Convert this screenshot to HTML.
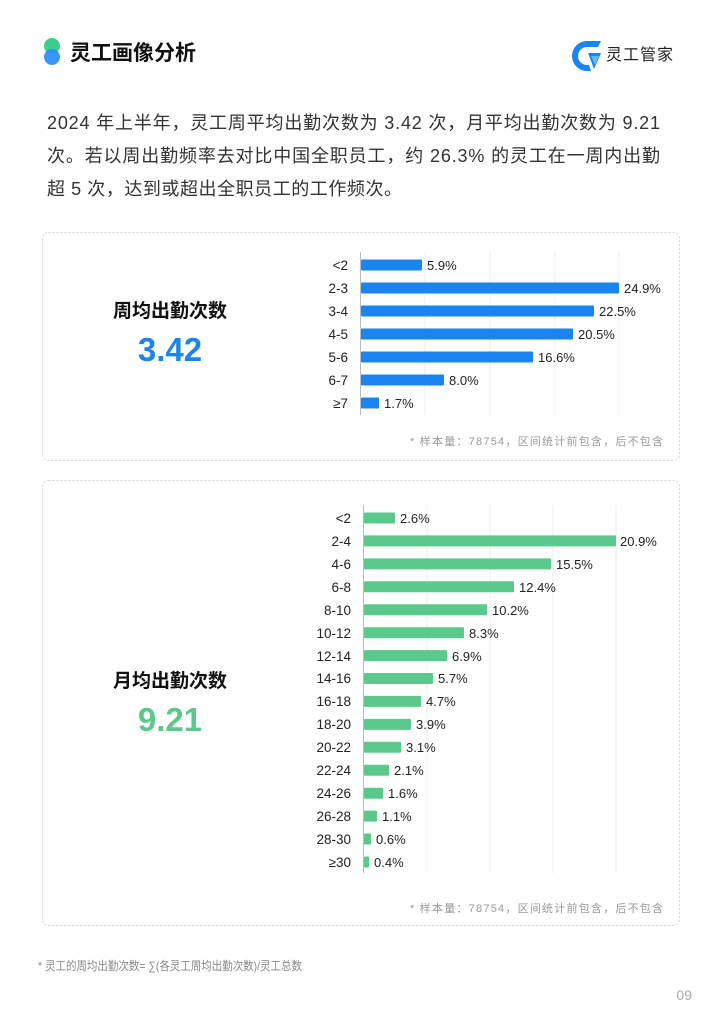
<!DOCTYPE html>
<html><head><meta charset="utf-8"><style>
html,body{margin:0;padding:0;background:#fff;}
body{width:721px;height:1024px;position:relative;overflow:hidden;font-family:"Liberation Sans","Noto Sans CJK SC",sans-serif;}
</style></head><body>
<svg width="721" height="1024" viewBox="0 0 721 1024" xmlns="http://www.w3.org/2000/svg" style="position:absolute;left:0;top:0;font-family:'Liberation Sans','Noto Sans CJK SC',sans-serif">
<!-- header -->
<circle cx="52" cy="46" r="8" fill="#3dcc8e"/>
<circle cx="52" cy="57" r="8" fill="#2f8ff5" opacity="0.95"/>
<text x="70" y="60" font-size="21" font-weight="bold" fill="#111">灵工画像分析</text>
<path d="M587 41 h14 l-3 6 h-11 a9 9 0 0 0 0 18 h2 l2 6 h-4 a15 15 0 0 1 0 -30z" fill="#1a84f0"/>
<path d="M588 53 h13 l-7 16 z" fill="#1a84f0"/>
<path d="M591 56 h8 l-4 9z" fill="#5fc0f5"/>
<text x="606" y="60" font-size="16" fill="#222" textLength="67">灵工管家</text>
<!-- paragraph -->
<g font-size="18" fill="#333">
<text x="47" y="129" textLength="613" lengthAdjust="spacing">2024 年上半年，灵工周平均出勤次数为 3.42 次，月平均出勤次数为 9.21</text>
<text x="47" y="162" textLength="613" lengthAdjust="spacing">次。若以周出勤频率去对比中国全职员工，约 26.3% 的灵工在一周内出勤</text>
<text x="47" y="195" textLength="355" lengthAdjust="spacing">超 5 次，达到或超出全职员工的工作频次。</text>
</g>
<!-- cards -->
<rect x="42.5" y="232.5" width="637" height="228" rx="6" fill="none" stroke="#d6d6d6" stroke-dasharray="2,2"/>
<rect x="42.5" y="480.5" width="637" height="445" rx="6" fill="none" stroke="#d6d6d6" stroke-dasharray="2,2"/>
<!-- weekly -->
<text x="170" y="317" font-size="19" font-weight="bold" fill="#111" text-anchor="middle">周均出勤次数</text>
<text x="170" y="361" font-size="33" font-weight="bold" fill="#1a84f0" text-anchor="middle">3.42</text>
<g stroke="#eeeeee"><line x1="425" y1="252" x2="425" y2="415"/><line x1="490" y1="252" x2="490" y2="415"/><line x1="555" y1="252" x2="555" y2="415"/><line x1="619" y1="252" x2="619" y2="415"/></g>
<line x1="360.5" y1="252" x2="360.5" y2="415" stroke="#bbb"/>
<g fill="#1a84f0">
<rect x="361" y="259.5" width="61" height="11" rx="1"/>
<rect x="361" y="282.5" width="258" height="11" rx="1"/>
<rect x="361" y="305.5" width="233" height="11" rx="1"/>
<rect x="361" y="328.5" width="212" height="11" rx="1"/>
<rect x="361" y="351.5" width="172" height="11" rx="1"/>
<rect x="361" y="374.5" width="83" height="11" rx="1"/>
<rect x="361" y="397.5" width="18" height="11" rx="1"/>
</g>
<g font-size="13.5" fill="#222" text-anchor="end">
<text x="348" y="270">&lt;2</text><text x="348" y="293">2-3</text><text x="348" y="316">3-4</text><text x="348" y="339">4-5</text><text x="348" y="362">5-6</text><text x="348" y="385">6-7</text><text x="348" y="408">≥7</text>
</g>
<g font-size="13" fill="#222">
<text x="427" y="270">5.9%</text><text x="624" y="293">24.9%</text><text x="599" y="316">22.5%</text><text x="578" y="339">20.5%</text><text x="538" y="362">16.6%</text><text x="449" y="385">8.0%</text><text x="384" y="408">1.7%</text>
</g>
<text x="410" y="445" font-size="11" fill="#999" textLength="253" lengthAdjust="spacing">* 样本量：78754，区间统计前包含，后不包含</text>
<!-- monthly -->
<text x="170" y="687" font-size="19" font-weight="bold" fill="#111" text-anchor="middle">月均出勤次数</text>
<text x="170" y="731" font-size="33" font-weight="bold" fill="#5cc98c" text-anchor="middle">9.21</text>
<g stroke="#eeeeee"><line x1="427" y1="505" x2="427" y2="873"/><line x1="490" y1="505" x2="490" y2="873"/><line x1="553" y1="505" x2="553" y2="873"/><line x1="616" y1="505" x2="616" y2="873"/></g>
<line x1="363.5" y1="505" x2="363.5" y2="873" stroke="#bbb"/>
<g fill="#5cc98c">
<rect x="364" y="512.5" width="31" height="11" rx="1"/>
<rect x="364" y="535.4" width="252" height="11" rx="1"/>
<rect x="364" y="558.4" width="187" height="11" rx="1"/>
<rect x="364" y="581.3" width="150" height="11" rx="1"/>
<rect x="364" y="604.2" width="123" height="11" rx="1"/>
<rect x="364" y="627.2" width="100" height="11" rx="1"/>
<rect x="364" y="650.1" width="83" height="11" rx="1"/>
<rect x="364" y="673" width="69" height="11" rx="1"/>
<rect x="364" y="695.9" width="57" height="11" rx="1"/>
<rect x="364" y="718.9" width="47" height="11" rx="1"/>
<rect x="364" y="741.8" width="37" height="11" rx="1"/>
<rect x="364" y="764.7" width="25" height="11" rx="1"/>
<rect x="364" y="787.7" width="19" height="11" rx="1"/>
<rect x="364" y="810.6" width="13" height="11" rx="1"/>
<rect x="364" y="833.5" width="7" height="11" rx="1"/>
<rect x="364" y="856.5" width="5" height="11" rx="1"/>
</g>
<g font-size="13.5" fill="#222" text-anchor="end">
<text x="351" y="523">&lt;2</text><text x="351" y="546">2-4</text><text x="351" y="569">4-6</text><text x="351" y="592">6-8</text><text x="351" y="615">8-10</text><text x="351" y="638">10-12</text><text x="351" y="661">12-14</text><text x="351" y="683">14-16</text><text x="351" y="706">16-18</text><text x="351" y="729">18-20</text><text x="351" y="752">20-22</text><text x="351" y="775">22-24</text><text x="351" y="798">24-26</text><text x="351" y="821">26-28</text><text x="351" y="844">28-30</text><text x="351" y="867">≥30</text>
</g>
<g font-size="13" fill="#222">
<text x="400" y="523">2.6%</text><text x="620" y="546">20.9%</text><text x="556" y="569">15.5%</text><text x="519" y="592">12.4%</text><text x="492" y="615">10.2%</text><text x="469" y="638">8.3%</text><text x="452" y="661">6.9%</text><text x="438" y="683">5.7%</text><text x="426" y="706">4.7%</text><text x="416" y="729">3.9%</text><text x="406" y="752">3.1%</text><text x="394" y="775">2.1%</text><text x="388" y="798">1.6%</text><text x="382" y="821">1.1%</text><text x="376" y="844">0.6%</text><text x="374" y="867">0.4%</text>
</g>
<text x="410" y="912" font-size="11" fill="#999" textLength="253" lengthAdjust="spacing">* 样本量：78754，区间统计前包含，后不包含</text>
<!-- footer -->
<text x="38" y="970" font-size="12" fill="#888" textLength="264" lengthAdjust="spacingAndGlyphs">* 灵工的周均出勤次数= ∑(各灵工周均出勤次数)/灵工总数</text>
<text x="692" y="1000" font-size="14" fill="#aaa" text-anchor="end">09</text>
</svg>
</body></html>
